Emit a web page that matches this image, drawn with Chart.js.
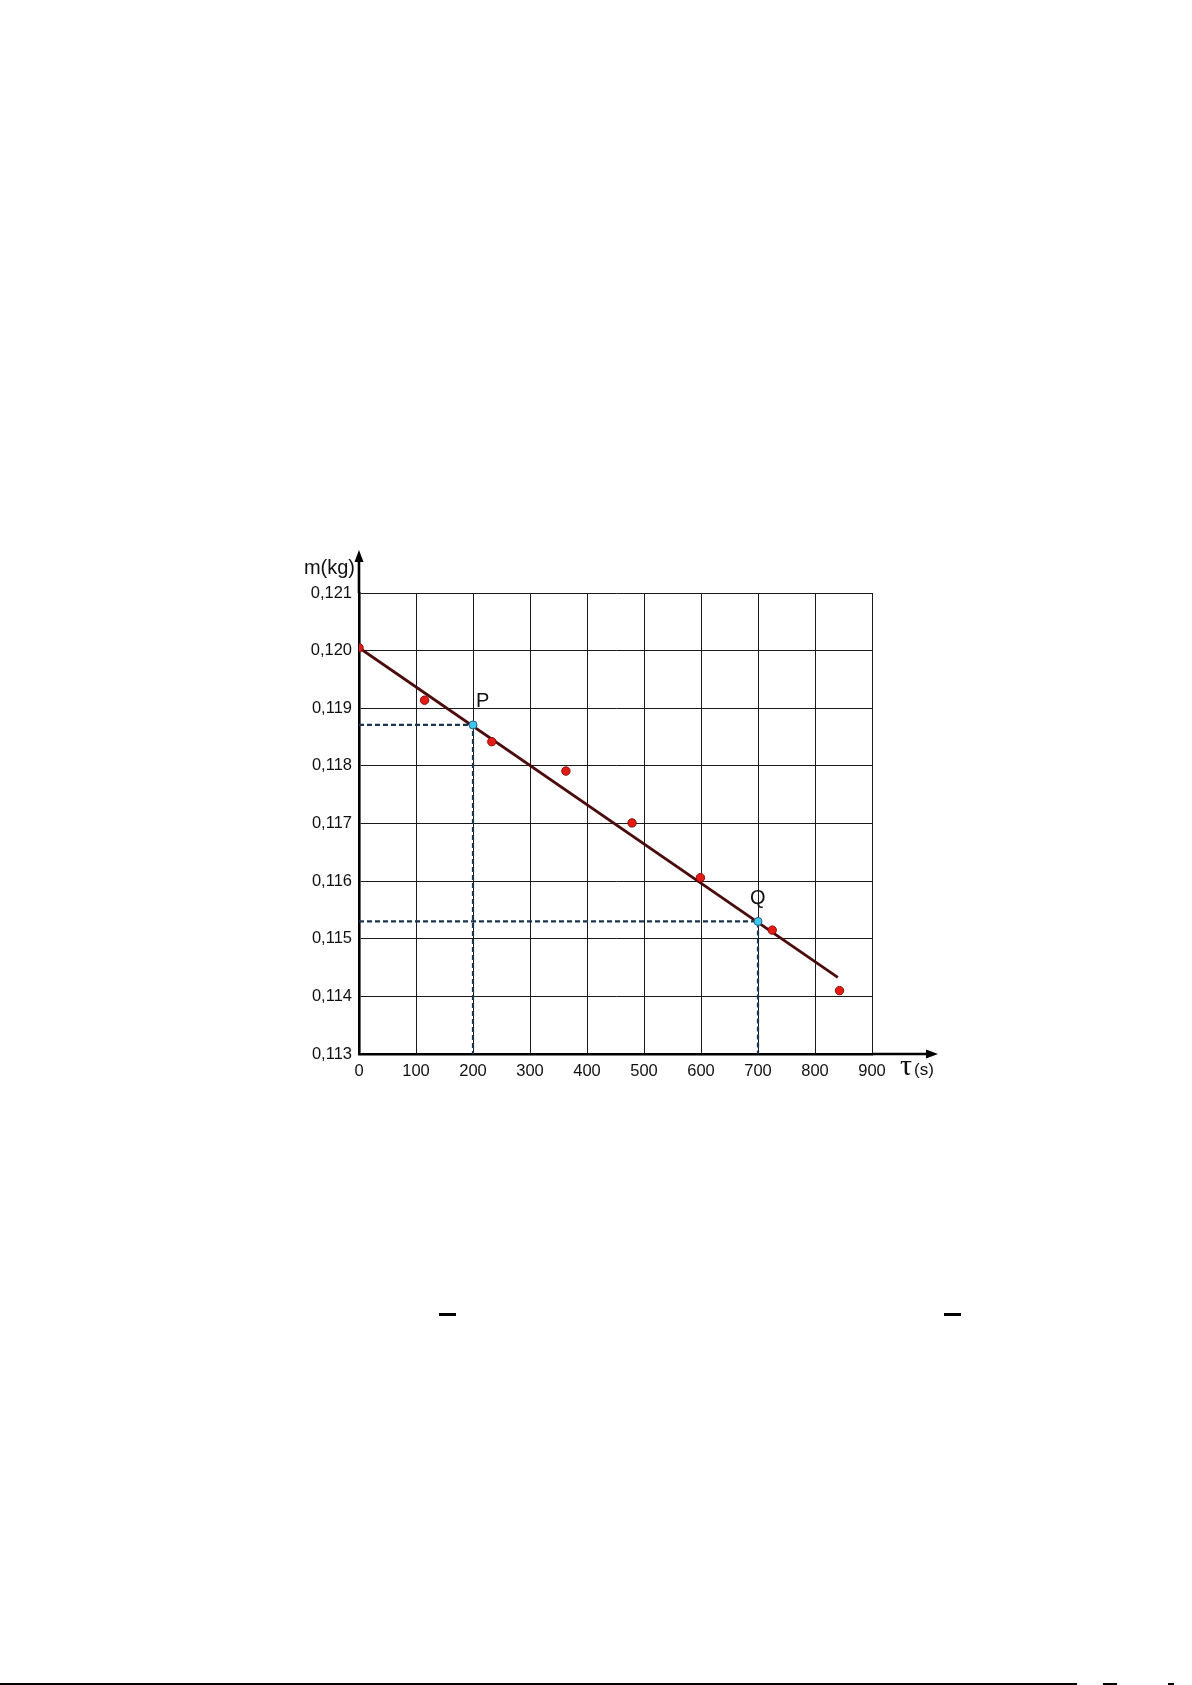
<!DOCTYPE html>
<html>
<head>
<meta charset="utf-8">
<script src="https://cdn.jsdelivr.net/npm/chart.js@4/dist/chart.umd.min.js"></script>
<style>
  html, body { margin: 0; padding: 0; background: #fff; }
  #wrap { position: relative; width: 1192px; height: 1685px; overflow: hidden; }
  #c { position: absolute; left: 0; top: 0; }
  .bar { position: absolute; background: #000; }
</style>
</head>
<body>
<div id="wrap">
  <canvas id="c" width="1192" height="1685"></canvas>
  <div class="bar" style="left:439px; top:1313px; width:17px; height:2.6px;"></div>
  <div class="bar" style="left:944px; top:1313px; width:17px; height:2.6px;"></div>
  <div class="bar" style="left:0px; top:1683px; width:1077px; height:2px;"></div>
  <div class="bar" style="left:1103px; top:1683px; width:14px; height:2px;"></div>
  <div class="bar" style="left:1168px; top:1683px; width:6px; height:2px;"></div>
</div>
<script>
// ---- data ----
const timeS = [0, 115, 233, 363, 479, 599, 725, 843];
const massKg = [0.12005, 0.11914, 0.11842, 0.11791, 0.11701, 0.11606, 0.11515, 0.11410];
const fitX = [0, 840];
const fitY = [0.12005, 0.11433];
const markNames = ['P', 'Q'];
const markX = [200, 700];
const markY = [0.11871, 0.11530];
const xMin = 0, xMax = 900, xStep = 100;
const yMin = 0.113, yMax = 0.121, yStep = 0.001;
const yTitle = 'm(kg)';
const xTitleSym = 'τ';
const xTitleUnit = '(s)';

const FONT = '"Liberation Sans", Arial, sans-serif';

const pts = timeS.map((x, i) => ({ x, y: massKg[i] }));
const fitPts = fitX.map((x, i) => ({ x, y: fitY[i] }));
const markPts = markX.map((x, i) => ({ x, y: markY[i] }));
const guideSets = markX.map((x, i) => ({
  type: 'scatter',
  data: [{ x: xMin, y: markY[i] }, { x: x, y: markY[i] }, { x: x, y: yMin }],
  showLine: true,
  borderColor: '#1b3550',
  borderWidth: 2.2,
  borderDash: [5, 3],
  pointRadius: 0,
  order: 3
}));

const overlay = {
  id: 'overlay',
  afterDraw(chart) {
    const ctx = chart.ctx;
    const xs = chart.scales.x, ys = chart.scales.y;
    const a = chart.chartArea;
    ctx.save();
    // axis arrows
    ctx.strokeStyle = '#000';
    ctx.fillStyle = '#000';
    ctx.lineWidth = 2.6;
    ctx.beginPath();
    ctx.moveTo(a.left, a.top);
    ctx.lineTo(a.left, a.top - 34);
    ctx.moveTo(a.right, a.bottom);
    ctx.lineTo(a.right + 58, a.bottom);
    ctx.stroke();
    // y arrowhead
    ctx.beginPath();
    ctx.moveTo(a.left, a.top - 43);
    ctx.lineTo(a.left - 4.5, a.top - 31);
    ctx.lineTo(a.left + 4.5, a.top - 31);
    ctx.closePath();
    ctx.fill();
    // x arrowhead
    ctx.beginPath();
    ctx.moveTo(a.right + 66, a.bottom);
    ctx.lineTo(a.right + 54, a.bottom - 4.5);
    ctx.lineTo(a.right + 54, a.bottom + 4.5);
    ctx.closePath();
    ctx.fill();

    // axis titles
    ctx.fillStyle = '#111';
    ctx.font = '20px ' + FONT;
    ctx.textAlign = 'right';
    ctx.textBaseline = 'alphabetic';
    ctx.fillText(yTitle, a.left - 4, a.top - 19);
    ctx.textAlign = 'left';
    ctx.font = '30px "Liberation Serif", "DejaVu Serif", serif';
    ctx.fillText(xTitleSym, a.right + 28, a.bottom + 21);
    ctx.font = '17px ' + FONT;
    ctx.fillText(xTitleUnit, a.right + 42, a.bottom + 21);

    // P, Q labels
    ctx.font = '20px ' + FONT;
    ctx.textAlign = 'left';
    markNames.forEach((name, i) => {
      const px = xs.getPixelForValue(markX[i]);
      const py = ys.getPixelForValue(markY[i]);
      if (i === 0) ctx.fillText(name, px + 3, py - 18);
      else ctx.fillText(name, px - 8, py - 17);
    });
    ctx.restore();
  }
};

new Chart(document.getElementById('c'), {
  type: 'scatter',
  data: {
    datasets: [
      {
        data: pts,
        pointRadius: 4.2,
        pointBackgroundColor: '#e41b13',
        pointBorderColor: '#8a0a0a',
        pointBorderWidth: 1,
        showLine: false,
        order: 0
      },
      {
        data: markPts,
        pointRadius: 4,
        pointBackgroundColor: '#40c6f0',
        pointBorderColor: '#1a5f80',
        pointBorderWidth: 1,
        showLine: false,
        order: 1
      },
      {
        data: fitPts,
        showLine: true,
        borderColor: '#4a0c0c',
        borderWidth: 2.8,
        pointRadius: 0,
        order: 2
      },
      ...guideSets
    ]
  },
  options: {
    responsive: false,
    animation: false,
    events: [],
    layout: { padding: { left: 299, top: 593, right: 320, bottom: 601 } },
    plugins: { legend: { display: false }, tooltip: { enabled: false } },
    scales: {
      x: {
        type: 'linear',
        min: xMin, max: xMax,
        afterFit(s) { s.height = 30; },
        ticks: {
          stepSize: xStep,
          padding: 8,
          color: '#111',
          font: { family: FONT, size: 16.5 },
          maxRotation: 0
        },
        grid: { color: '#1a1a1a', lineWidth: 1, drawTicks: false },
        border: { display: true, color: '#000', width: 2.6 }
      },
      y: {
        type: 'linear',
        min: yMin, max: yMax,
        afterFit(s) { s.width = 60; },
        ticks: {
          stepSize: yStep,
          padding: 7,
          color: '#111',
          font: { family: FONT, size: 16.5 },
          callback: (v) => v.toFixed(3).replace('.', ',')
        },
        grid: { color: '#1a1a1a', lineWidth: 1, drawTicks: false },
        border: { display: true, color: '#000', width: 2.6 }
      }
    }
  },
  plugins: [overlay]
});
</script>
</body>
</html>
